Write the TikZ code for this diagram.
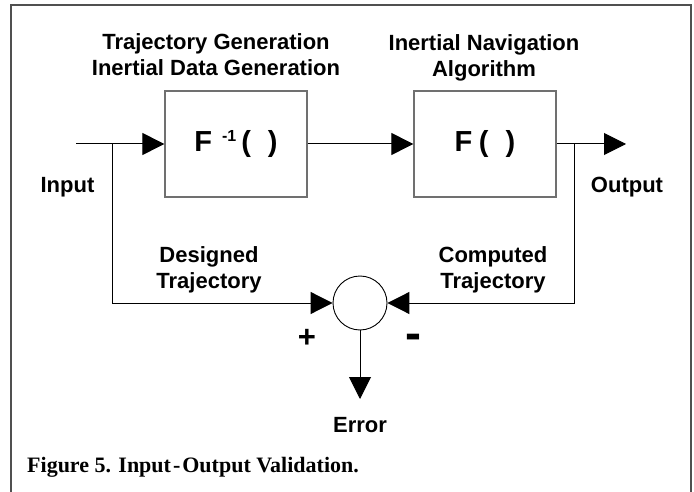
\documentclass[tikz,border=0pt]{standalone}
\usepackage{fontspec}
\setmainfont{Liberation Sans}
\newfontfamily\capfont{Liberation Serif}
\usetikzlibrary{arrows.meta, positioning}
\definecolor{FrameGray}{HTML}{505050}
\definecolor{BoxGray}{HTML}{707070}

\tikzset{
  blockbox/.style={draw=BoxGray, line width=1.3pt, minimum width=142pt, minimum height=106pt, inner sep=0pt, font=\fontsize{29}{29}\selectfont\bfseries},
  sumnode/.style={circle, draw, line width=0.9pt, minimum size=54pt, inner sep=0pt},
  lbl/.style={font=\fontsize{22}{26}\selectfont\bfseries, align=center, inner sep=0pt},
  sign/.style={inner sep=0pt, font=\bfseries},
  flow/.style={line width=1pt, -{Triangle[length=22pt, width=22pt]}},
}

\begin{document}
\begin{tikzpicture}[x=1pt, y=-1pt]
    \useasboundingbox (0,0) rectangle (694,492);
    % Frame
    \draw[FrameGray, line width=2pt] (11,510) -- (11,5) -- (691,5) -- (691,510);

    % Blocks
    \node[blockbox] (inv) at (236,144) {F\hspace{10pt}\raisebox{10.5pt}{\fontsize{16}{16}\selectfont -1}\hspace{5pt}(\hspace{17pt})};
    \node[blockbox] (nav) at (485,144) {F\hspace{6.5pt}(\hspace{17pt})};
    \node[sumnode] (sum) at (360,303) {};

    % Ends and taps
    \coordinate (in) at (76,144);
    \coordinate (out) at (626,144);
    \coordinate (tapin) at (112,144);
    \coordinate (tapout) at (574,144);
    \coordinate (errtip) at (360,399);

    % Arrows
    \draw[flow] (in) -- (inv);
    \draw[flow] (inv) -- (nav);
    \draw[flow] (nav) -- (out);
    \draw[flow] (tapin) |- (sum);
    \draw[flow] (tapout) |- (sum);
    \draw[flow] (sum) -- (errtip);

    % Labels
    \node[lbl] (gen) at (216,55) {Trajectory Generation\\Inertial Data Generation};
    \node[lbl] (ins) at (484,57.4) {Inertial Navigation\\Algorithm};
    \node[lbl] (inlbl) at (67.5,187.4) {Input};
    \node[lbl] (outlbl) at (627,187.4) {Output};
    \node[lbl] (des) at (209,269.4) {Designed\\Trajectory};
    \node[lbl] (comp) at (493,269.4) {Computed\\Trajectory};
    \node[sign, font=\fontsize{31}{31}\selectfont\bfseries] (plus) at (307,338.5) {+};
    \node[sign, font=\fontsize{48}{48}\selectfont\bfseries] (minus) at (413,341.5) {-};
    \node[lbl, below=18pt of errtip] (err) {Error};

    % Caption
    \node[anchor=west, inner sep=0pt, font=\capfont\fontsize{22}{26}\selectfont\bfseries] (cap) at (27,467.7) {Figure 5. Input\kern2pt-\kern2pt Output Validation.};
\end{tikzpicture}
\end{document}
